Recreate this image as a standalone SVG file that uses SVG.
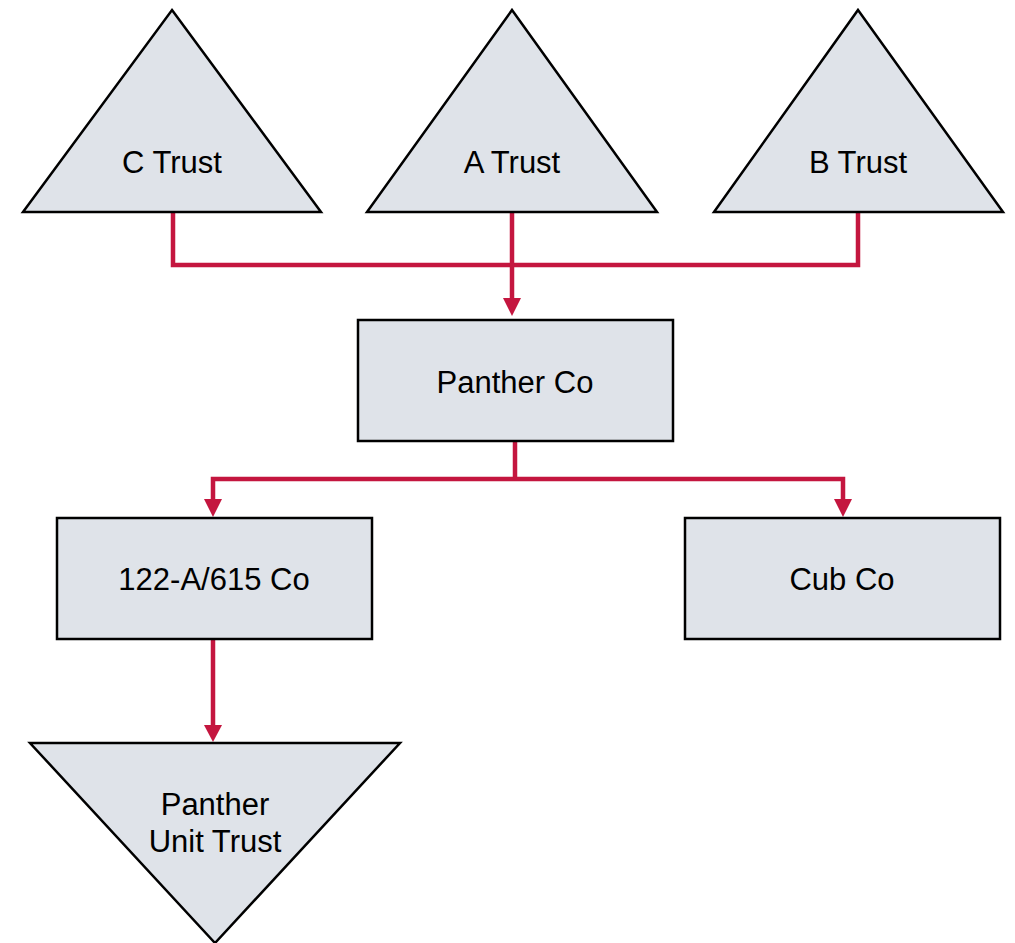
<svg xmlns="http://www.w3.org/2000/svg" width="1015" height="943" viewBox="0 0 1015 943">
  <style>
    .shape { fill: #dfe3e9; stroke: #000; stroke-width: 2.5; stroke-linejoin: miter; }
    .label { font-family: "Liberation Sans", Arial, sans-serif; font-size: 31px; fill: #000; text-anchor: middle; }
    .link { fill: none; stroke: #c4163f; stroke-width: 4.5; }
    .head { fill: #c4163f; }
  </style>
  <rect width="1015" height="943" fill="#fff"/>

  <g id="connectors">
    <!-- trusts into Panther Co -->
    <polyline class="link" points="173,213 173,265 858,265 858,213"/>
    <line class="link" x1="512" y1="213" x2="512" y2="302"/>
    <polygon class="head" points="503,298 521,298 512,316"/>
    <!-- Panther Co to subsidiaries -->
    <line class="link" x1="515" y1="441" x2="515" y2="479"/>
    <polyline class="link" points="213,502 213,479 843,479 843,502"/>
    <polygon class="head" points="204,499 222,499 213,517"/>
    <polygon class="head" points="834,499 852,499 843,517"/>
    <!-- 122-A/615 Co to Panther Unit Trust -->
    <line class="link" x1="213" y1="639" x2="213" y2="728"/>
    <polygon class="head" points="204,725 222,725 213,742"/>
  </g>

  <g id="c-trust">
    <polygon class="shape" points="172,10 321,212 23,212"/>
    <text class="label" x="172" y="173">C Trust</text>
  </g>
  <g id="a-trust">
    <polygon class="shape" points="512,10 657,212 367,212"/>
    <text class="label" x="512" y="173">A Trust</text>
  </g>
  <g id="b-trust">
    <polygon class="shape" points="858,10 1003,212 714,212"/>
    <text class="label" x="858" y="173">B Trust</text>
  </g>
  <g id="panther-co">
    <rect class="shape" x="358" y="320" width="315" height="121"/>
    <text class="label" x="515" y="393">Panther Co</text>
  </g>
  <g id="co-122a-615">
    <rect class="shape" x="57" y="518" width="315" height="121"/>
    <text class="label" x="214" y="590">122-A/615 Co</text>
  </g>
  <g id="cub-co">
    <rect class="shape" x="685" y="518" width="315" height="121"/>
    <text class="label" x="842" y="590">Cub Co</text>
  </g>
  <g id="panther-unit-trust">
    <polygon class="shape" points="30,743 400,743 215,943"/>
    <text class="label" x="215" y="815">Panther</text>
    <text class="label" x="215" y="852">Unit Trust</text>
  </g>
</svg>
